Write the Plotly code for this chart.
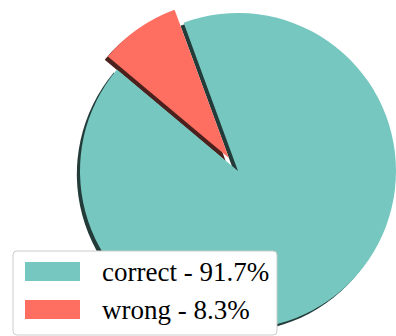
import math
import plotly.graph_objects as go

# Share of answers by outcome
categories = ["correct", "wrong"]
shares = [91.7, 8.3]
colors = ["#76c7c0", "#ff6f61"]
explode = [0.0, 0.1]
start_angle = 140  # degrees, counter-clockwise from 3 o'clock

W, H = 396, 336
R = 158               # pie radius in px
CX, CY = 238, 171     # pie centre in px (from top-left)
SHADOW = 0.02         # shadow offset as a fraction of the radius
TRANSPARENT = "rgba(0,0,0,0)"


def shade(hex_color, k=0.3):
    h = hex_color.lstrip("#")
    r, g, b = (int(h[i:i + 2], 16) for i in (0, 2, 4))
    return f"rgb({round(r * k)},{round(g * k)},{round(b * k)})"


def domain(cx, cy):
    x0, x1 = (cx - R) / W, (cx + R) / W
    y0, y1 = 1 - (cy + R) / H, 1 - (cy - R) / H
    clamp = lambda v: min(1.0, max(0.0, v))
    return dict(x=[clamp(x0), clamp(x1)], y=[clamp(y0), clamp(y1)])


total = sum(shares)
theta = [360 * v / total for v in shares]
# plotly measures rotation clockwise from 12 o'clock
rotation = ((90 - start_angle - theta[0]) + 180) % 360 - 180

# centre of every wedge, pushed outwards along its bisector
centres = []
acc = start_angle
for t, e in zip(theta, explode):
    mid = math.radians(acc + t / 2)
    centres.append((CX + e * R * math.cos(mid), CY - e * R * math.sin(mid)))
    acc += t

fig = go.Figure()


def wedge_trace(idx, fill, dx=0.0, dy=0.0):
    cx, cy = centres[idx]
    slice_colors = [fill if j == idx else TRANSPARENT for j in range(len(shares))]
    return go.Pie(
        labels=categories,
        values=shares,
        sort=False,
        direction="clockwise",
        rotation=rotation,
        marker=dict(colors=slice_colors, line=dict(width=0)),
        textinfo="none",
        hoverinfo="skip",
        showlegend=False,
        domain=domain(cx + dx, cy + dy),
    )


off = SHADOW * R
# shadows first, wedges on top
for i, c in enumerate(colors):
    fig.add_trace(wedge_trace(i, shade(c), -off, off))
for i, c in enumerate(colors):
    fig.add_trace(wedge_trace(i, c))

# legend box with colour patches and labels
def px_x(v):
    return v / W


def px_y(v):
    return 1 - v / H


bx0, by0, bx1, by1, rad = 13, 251, 277, 335, 4
path = (
    f"M {px_x(bx0 + rad)},{px_y(by0)} L {px_x(bx1 - rad)},{px_y(by0)} "
    f"Q {px_x(bx1)},{px_y(by0)} {px_x(bx1)},{px_y(by0 + rad)} "
    f"L {px_x(bx1)},{px_y(by1 - rad)} "
    f"Q {px_x(bx1)},{px_y(by1)} {px_x(bx1 - rad)},{px_y(by1)} "
    f"L {px_x(bx0 + rad)},{px_y(by1)} "
    f"Q {px_x(bx0)},{px_y(by1)} {px_x(bx0)},{px_y(by1 - rad)} "
    f"L {px_x(bx0)},{px_y(by0 + rad)} "
    f"Q {px_x(bx0)},{px_y(by0)} {px_x(bx0 + rad)},{px_y(by0)} Z"
)
shapes = [dict(type="path", xref="paper", yref="paper", path=path,
               fillcolor="white", line=dict(color="#cccccc", width=1))]
annotations = []
row_centres = [271.5, 309.5]
for name, v, c, yc in zip(categories, shares, colors, row_centres):
    shapes.append(dict(type="rect", xref="paper", yref="paper",
                       x0=px_x(25), x1=px_x(80),
                       y0=px_y(yc + 9.5), y1=px_y(yc - 9.5),
                       fillcolor=c, line=dict(width=0)))
    annotations.append(dict(xref="paper", yref="paper", x=px_x(99.5), y=px_y(yc),
                            xanchor="left", yanchor="middle", showarrow=False,
                            text=f"{name} - {v}%",
                            font=dict(family="Liberation Serif, Times New Roman, serif",
                                      size=27, color="black")))

fig.update_layout(
    width=W, height=H,
    margin=dict(l=0, r=0, t=0, b=0),
    paper_bgcolor="white",
    plot_bgcolor="white",
    shapes=shapes,
    annotations=annotations,
)

fig.write_html("out.html", config={"displayModeBar": False})
